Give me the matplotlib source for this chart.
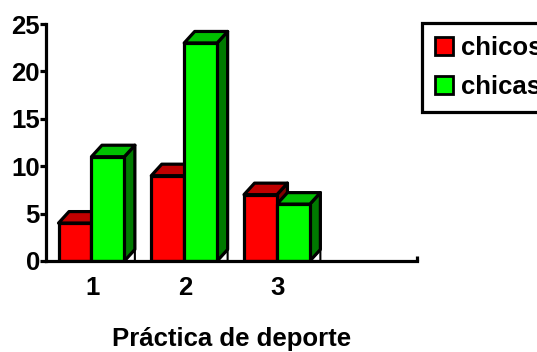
import numpy as np
import matplotlib.pyplot as plt
from matplotlib.patches import Polygon, Patch

categories = [1, 2, 3]
chicos = [4, 9, 7]
chicas = [11, 23, 6]
series_names = ['chicos', 'chicas']

plt.rcParams['font.family'] = ['Liberation Sans', 'DejaVu Sans']
plt.rcParams['font.weight'] = 'bold'
FS = 18.5

W, H, DPI = 537, 352, 100
fig = plt.figure(figsize=(W / DPI, H / DPI), dpi=DPI)
ax = fig.add_axes([46 / W, 1 - 261 / H, 371 / W, 237 / H])
ax.set_xlim(0.5, 4.5)
ax.set_ylim(0, 25)

# depth of the fake 3d boxes, given in pixels and turned into data units
dx = 10.5 / 371 * 4.0
dy = 11.5 / 237 * 25.0

front = {'chicos': '#ff0000', 'chicas': '#00ff00'}
top = {'chicos': '#c00000', 'chicas': '#00c000'}
side = {'chicos': '#800000', 'chicas': '#007a00'}
lw = 2.3
width = 0.355
offsets = {'chicos': -0.365, 'chicas': -0.01}


def box(x0, h, name):
    x1 = x0 + width
    # floor triangle under the side face
    ax.add_patch(Polygon([(x1, 0), (x1 + dx, dy), (x1 + dx, 0)], closed=True,
                         facecolor='white', edgecolor='black', lw=1.5,
                         joinstyle='miter', zorder=2))
    ax.add_patch(Polygon([(x1, 0), (x1 + dx, dy), (x1 + dx, h + dy), (x1, h)],
                         closed=True, facecolor=side[name], edgecolor='black',
                         lw=lw, joinstyle='round', zorder=2))
    ax.add_patch(Polygon([(x0, h), (x0 + dx, h + dy), (x1 + dx, h + dy), (x1, h)],
                         closed=True, facecolor=top[name], edgecolor='black',
                         lw=lw, joinstyle='round', zorder=2))
    ax.add_patch(Polygon([(x0, 0), (x0, h), (x1, h), (x1, 0)], closed=True,
                         facecolor=front[name], edgecolor='black', lw=lw,
                         joinstyle='round', zorder=3))


for i, c in enumerate(categories):
    for name, vals in (('chicos', chicos), ('chicas', chicas)):
        box(c + offsets[name], vals[i], name)

for s in ['top', 'right']:
    ax.spines[s].set_visible(False)
for s in ['left', 'bottom']:
    ax.spines[s].set_linewidth(lw)
    ax.spines[s].set_zorder(5)

ax.plot([4.5, 4.5], [0, 0.55], color='black', lw=lw, solid_capstyle='butt',
        clip_on=False, zorder=5)

ax.set_yticks([0, 5, 10, 15, 20, 25])
ax.tick_params(axis='y', direction='out', length=4, width=lw, pad=0.5,
               labelsize=FS)
ax.set_xticks(categories)
ax.set_xticklabels([str(c) for c in categories])
ax.tick_params(axis='x', length=0, pad=11, labelsize=FS)
for t in ax.get_xticklabels() + ax.get_yticklabels():
    t.set_fontweight('bold')

ax.set_xlabel('Práctica de deporte', fontsize=FS, fontweight='bold',
              labelpad=19)

handles = [Patch(facecolor=front[n], edgecolor='black', lw=2) for n in series_names]
leg = fig.legend(handles, series_names, loc='upper left',
                 bbox_to_anchor=(422 / W, 1 - 23 / H), frameon=True,
                 fancybox=False, framealpha=1, borderaxespad=0,
                 borderpad=0.5, labelspacing=0.6,
                 handlelength=0.7, handleheight=0.7, handletextpad=0.3,
                 prop={'size': FS, 'weight': 'bold'})
leg.get_frame().set_edgecolor('black')
leg.get_frame().set_linewidth(lw)

fig.savefig('out.png', dpi=DPI)
